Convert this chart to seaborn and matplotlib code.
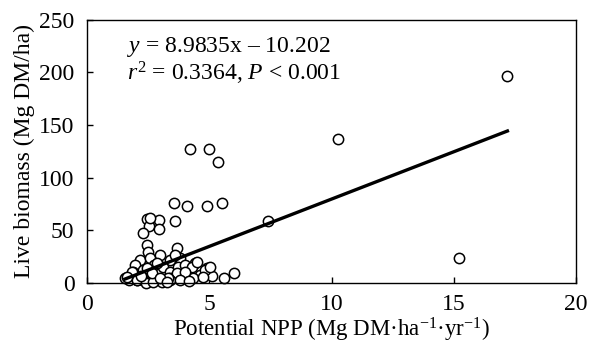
import matplotlib
matplotlib.use("Agg")
import matplotlib.pyplot as plt
import seaborn as sns
import pandas as pd
import numpy as np

# valores
npp = [17.19, 10.25, 15.2, 7.41,
       4.23, 4.99, 5.35, 3.57, 4.09, 4.91, 5.5,
       2.44, 2.95, 3.58, 2.55, 2.96, 2.28, 2.58,
       2.45, 2.5, 3.68, 2.17, 2.58, 3.0, 3.4, 3.82, 3.61,
       1.97, 1.9, 1.7, 2.3, 2.72, 3.1, 3.38, 3.7, 2.04, 2.3, 2.7, 3.1, 3.38, 3.82,
       1.55, 1.82, 2.85, 4.02, 4.43, 4.9, 6.0, 5.6, 5.1, 4.63, 4.29, 4.5, 4.84, 5.04,
       4.33, 4.74, 3.68, 4.0, 3.4, 3.8, 2.06, 2.4, 3.06, 2.7, 3.33, 2.44, 2.65, 3.0,
       1.62, 2.2, 3.25, 4.15]
biomassa = [196.4, 136.6, 24.0, 59.1,
            126.9, 126.9, 115.0, 76.2, 73.0, 73.0, 76.2,
            60.4, 59.8, 58.5, 54.1, 51.0, 47.7, 61.4,
            36.0, 29.7, 33.0, 21.8, 23.4, 26.6, 21.8, 23.4, 26.6,
            17.0, 10.8, 2.8, 12.3, 17.0, 15.5, 10.8, 15.5, 2.8, 2.8, 2.8, 2.8, 4.5, 6.0,
            4.5, 10.8, 18.6, 17.0, 18.6, 14.0, 9.2, 5.0, 6.6, 7.6, 15.5, 20.0, 12.3, 15.5,
            4.5, 6.0, 9.2, 10.8, 2.8, 2.8, 2.8, 0.0, 1.2, 1.0, 4.5, 14.0, 9.2, 4.5,
            5.5, 7.0, 0.5, 1.5]

inclinacao = 8.9835
intercepto = -10.202

df = pd.DataFrame({"npp": npp, "biomassa": biomassa})

plt.rcParams["font.family"] = ["Liberation Serif", "DejaVu Serif"]
plt.rcParams["mathtext.fontset"] = "custom"
plt.rcParams["mathtext.rm"] = "Liberation Serif"
plt.rcParams["mathtext.it"] = "Liberation Serif:italic"

fig = plt.figure(figsize=(5.9, 3.43), dpi=100)
ax = fig.add_axes([0.1475, 0.175, 0.829, 0.768])

# linha de regressao
x_linha = np.array([min(npp), max(npp)])
y_linha = inclinacao * x_linha + intercepto
sns.lineplot(x=x_linha, y=y_linha, color="black", linewidth=2.4, ax=ax, zorder=3)

sns.scatterplot(data=df, x="npp", y="biomassa", s=55, facecolor="white",
                edgecolor="black", linewidth=1.1, ax=ax, zorder=2, clip_on=False)

ax.set_xlim(0, 20)
ax.set_ylim(0, 250)
ax.set_xticks([0, 5, 10, 15, 20])
ax.set_yticks([0, 50, 100, 150, 200, 250])
ax.tick_params(direction="in", length=4, width=1, labelsize=17)
ax.tick_params(axis="x", pad=8)
ax.tick_params(axis="y", pad=9)
for s in ax.spines.values():
    s.set_linewidth(1)
    s.set_color("black")

ax.set_xlabel("Potential NPP (Mg DM·ha$^{-1}$·yr$^{-1}$)", fontsize=16.5, labelpad=0.5)
ax.set_ylabel("Live biomass (Mg DM/ha)", fontsize=17, labelpad=3)

ax.text(1.65, 224, "$y$ = 8.9835x – 10.202", fontsize=17, va="center")
ax.text(1.65, 199, "$r^2$ = 0.3364, $P$ < 0.001", fontsize=17, va="center")

plt.savefig("out.png", dpi=100)
